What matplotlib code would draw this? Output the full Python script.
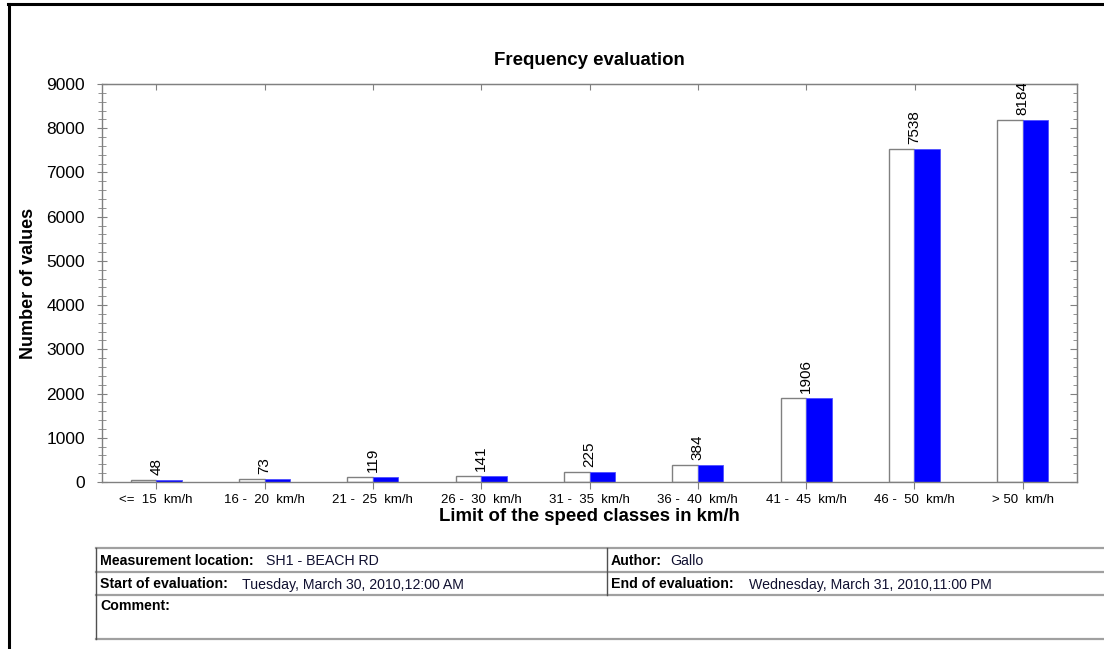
import matplotlib
matplotlib.use("Agg")
import matplotlib.pyplot as plt
from matplotlib.lines import Line2D
from matplotlib.ticker import MultipleLocator
import numpy as np

plt.rcParams['font.family'] = ['Liberation Sans', 'DejaVu Sans']

# ---- data ----
categories = ["<=  15  km/h", "16 -  20  km/h", "21 -  25  km/h", "26 -  30  km/h",
              "31 -  35  km/h", "36 -  40  km/h", "41 -  45  km/h", "46 -  50  km/h",
              "> 50  km/h"]
counts_outline = [48, 73, 119, 141, 225, 384, 1906, 7538, 8184]
counts_blue = [48, 73, 119, 141, 225, 384, 1906, 7538, 8184]
y_ticks = [0, 1000, 2000, 3000, 4000, 5000, 6000, 7000, 8000, 9000]

title = "Frequency evaluation"
xlabel = "Limit of the speed classes in km/h"
ylabel = "Number of values"

W, H = 1104, 649
fig = plt.figure(figsize=(W / 100, H / 100), dpi=100)
fig.patch.set_facecolor("white")

def fx(px):
    return px / W

def fy(py):
    return 1 - py / H

gray = "#808080"
ax = fig.add_axes([fx(102), fy(482), fx(1077) - fx(102), fy(84) - fy(482)])
x = np.arange(len(categories))
bw = 0.236
ax.bar(x, counts_outline, width=-bw, align="edge", facecolor="white",
       edgecolor=gray, linewidth=1.0, zorder=2)
ax.bar(x, counts_blue, width=bw, align="edge", facecolor="#0000FF",
       edgecolor="#5050FF", linewidth=0.6, zorder=2)

for xi, v in zip(x, counts_outline):
    ax.annotate(str(v), xy=(xi, v), xytext=(0, 3.5), textcoords="offset points",
                rotation=90, ha="center", va="bottom", fontsize=11,
                color="black", annotation_clip=False, clip_on=True)

ax.set_xlim(-0.5, len(categories) - 0.5)
ax.set_ylim(0, 9000)

for s in ax.spines.values():
    s.set_color(gray)
    s.set_linewidth(1.0)

ax.set_xticks(x)
ax.set_xticklabels(categories, fontsize=9.5)
ax.tick_params(axis="x", direction="out", length=4.8, color=gray, pad=3.5)
ax.set_yticks(y_ticks)
ax.set_yticklabels([str(t) for t in y_ticks], fontsize=12.5)
ax.yaxis.set_minor_locator(MultipleLocator(200))
ax.tick_params(axis="y", which="major", direction="inout", length=7.9, color=gray, pad=8.3)
ax.tick_params(axis="y", which="minor", direction="inout", length=5.5, color=gray)

# right ticks inward
secy = ax.secondary_yaxis("right")
secy.set_yticks(y_ticks)
secy.yaxis.set_minor_locator(MultipleLocator(200))
secy.tick_params(axis="y", which="major", direction="in", length=5, color=gray, labelright=False)
secy.tick_params(axis="y", which="minor", direction="in", length=3, color=gray)
secy.spines["right"].set_color(gray)
secy.set_yticklabels([])

# top ticks inward
secx = ax.secondary_xaxis("top")
secx.set_xticks(x)
secx.set_xticklabels([])
secx.tick_params(axis="x", direction="in", length=4, color=gray)
secx.spines["top"].set_color(gray)

ax.set_title(title, fontsize=13.4, fontweight="bold", pad=14)
ax.set_xlabel(xlabel, fontsize=13.4, fontweight="bold", labelpad=2)
ax.set_ylabel(ylabel, fontsize=13, fontweight="bold")
ax.yaxis.set_label_coords((37 - 102) / 975, 0.5)

# outer black frame (top and left)
fig.add_artist(Line2D([fx(8), 1.0], [fy(3.5), fy(3.5)], color="black", lw=2.2,
                      transform=fig.transFigure))
fig.add_artist(Line2D([fx(9), fx(9)], [fy(3.5), 0.0], color="black", lw=2.2,
                      transform=fig.transFigure))

# info table
tcol = "#A0A0A0"
left, right = 96, 1110
rows = [548, 571.5, 595, 639]
for yy in rows:
    fig.add_artist(Line2D([fx(left), fx(right)], [fy(yy), fy(yy)], color=tcol, lw=1.6,
                          transform=fig.transFigure))
fig.add_artist(Line2D([fx(left), fx(left)], [fy(548), fy(639)], color="#505050", lw=1.0,
                      transform=fig.transFigure))
fig.add_artist(Line2D([fx(607), fx(607)], [fy(548), fy(595)], color="#505050", lw=1.0,
                      transform=fig.transFigure))

fs = 10.2
tc = "#101030"
b1, b2, b3 = 565, 588.5, 610
fig.text(fx(100), fy(b1), "Measurement location:", fontsize=fs, fontweight="bold", va="baseline")
fig.text(fx(266), fy(b1), "SH1 - BEACH RD", fontsize=fs, va="baseline", color=tc)
fig.text(fx(611), fy(b1), "Author:", fontsize=fs, fontweight="bold", va="baseline")
fig.text(fx(670), fy(b1), "Gallo", fontsize=fs, va="baseline", color=tc)
fig.text(fx(100), fy(b2), "Start of evaluation:", fontsize=fs, fontweight="bold", va="baseline")
fig.text(fx(242), fy(b2), "Tuesday, March 30, 2010,12:00 AM", fontsize=fs, va="baseline", color=tc)
fig.text(fx(611), fy(b2), "End of evaluation:", fontsize=fs, fontweight="bold", va="baseline")
fig.text(fx(749), fy(b2), "Wednesday, March 31, 2010,11:00 PM", fontsize=fs, va="baseline", color=tc)
fig.text(fx(100), fy(b3), "Comment:", fontsize=fs, fontweight="bold", va="baseline")

fig.savefig("out.png", dpi=100, facecolor="white")
